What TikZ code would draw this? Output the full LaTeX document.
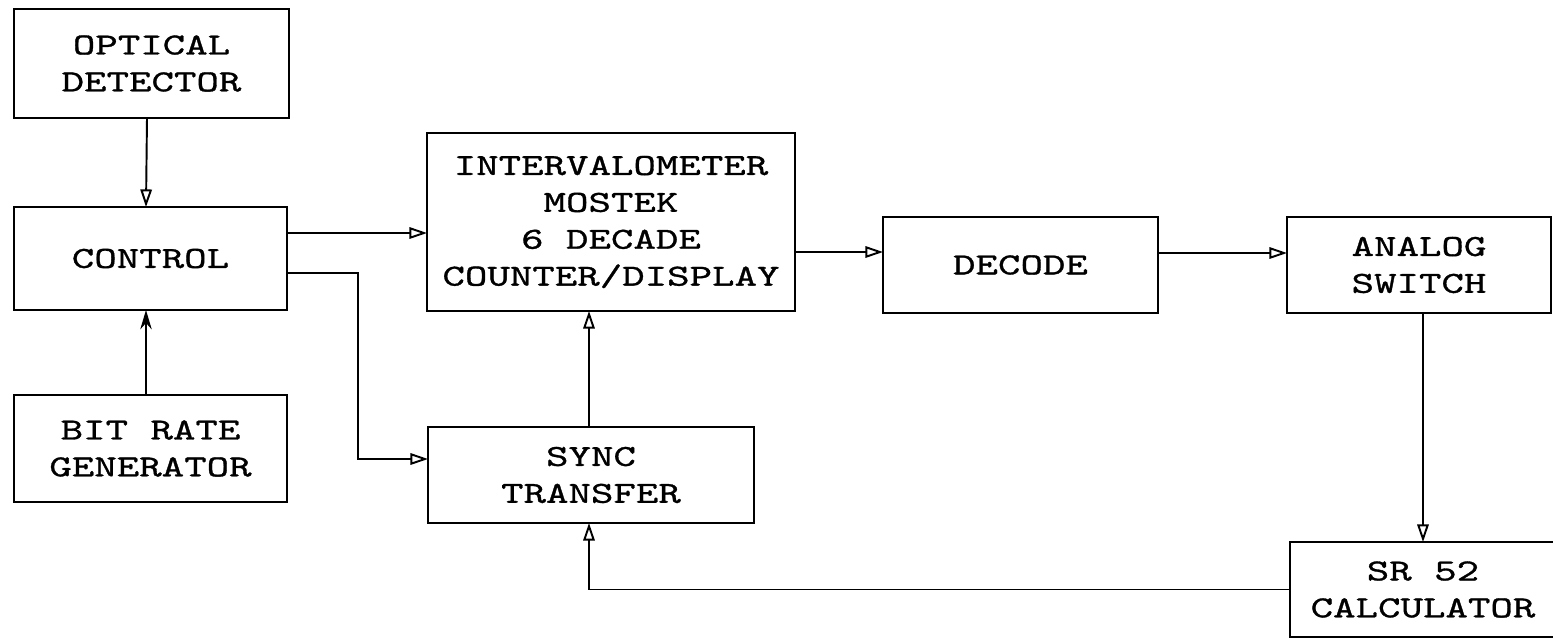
\documentclass[tikz,border=0pt]{standalone}
\usepackage{fontspec}
\setmonofont[FakeStretch=1.4,FakeBold=1]{lmmono10-regular.otf}
\usetikzlibrary{arrows.meta}
\begin{document}
\begin{tikzpicture}[x=0.02cm,y=-0.02cm,
  blk/.style={draw, line width=1.6pt, inner sep=0pt, outer sep=0pt, align=center,
    font=\ttfamily\fontsize{17.4}{21}\selectfont},
  conn/.style={line width=1.1pt},
  oarr/.style={conn, -{Triangle[open,length=10pt,width=6.5pt,line width=1.1pt]}},
  farr/.style={conn, -{Stealth[length=11pt,width=6.5pt]}}]
\useasboundingbox (0,0) rectangle (1553,640);
\node[blk, minimum width=5.5cm,  minimum height=2.18cm] (od)   at (151.5,63.5)  {OPTICAL\\DETECTOR};
\node[blk, minimum width=5.46cm, minimum height=2.06cm] (ctl)  at (150.5,258.5) {CONTROL};
\node[blk, minimum width=5.46cm, minimum height=2.14cm] (bit)  at (150.5,448.5) {BIT RATE\\GENERATOR};
\node[blk, minimum width=7.36cm, minimum height=3.56cm] (int)  at (611,222)     {INTERVALOMETER\\MOSTEK\\6 DECADE\\COUNTER/DISPLAY};
\node[blk, minimum width=6.52cm, minimum height=1.92cm] (sync) at (591,475)     {SYNC\\TRANSFER};
\node[blk, minimum width=5.5cm,  minimum height=1.92cm] (dec)  at (1020.5,265)  {DECODE};
\node[blk, minimum width=5.28cm, minimum height=1.92cm] (ana)  at (1419,265)    {ANALOG\\SWITCH};
\node[blk, minimum width=5.32cm, minimum height=1.9cm]  (sr)   at (1423,589.5)  {SR 52\\CALCULATOR};
\draw[oarr] ([xshift=-0.09cm]od.south) -- ([xshift=-0.09cm]ctl.north);
\draw[farr] ([xshift=-0.09cm]bit.north) -- ([xshift=-0.09cm]ctl.south);
\draw[oarr] ([yshift=0.51cm]ctl.east) -- ([yshift=0.51cm]ctl.east -| int.west);
\draw[oarr] ([yshift=-0.29cm]ctl.east) -- ++(71,0) |- ([yshift=0.32cm]sync.west);
\draw[oarr] ([xshift=-0.04cm]sync.north) -- ([xshift=-0.04cm]sync.north |- int.south);
\draw[oarr] ([yshift=0.26cm]dec.west -| int.east) -- ([yshift=0.26cm]dec.west);
\draw[oarr] ([yshift=0.24cm]dec.east) -- ([yshift=0.24cm]ana.west);
\draw[oarr] ([xshift=0.08cm]ana.south) -- (sr.north);
\draw[oarr] (sr.west) -| ([xshift=-0.04cm]sync.south);
\end{tikzpicture}
\end{document}
